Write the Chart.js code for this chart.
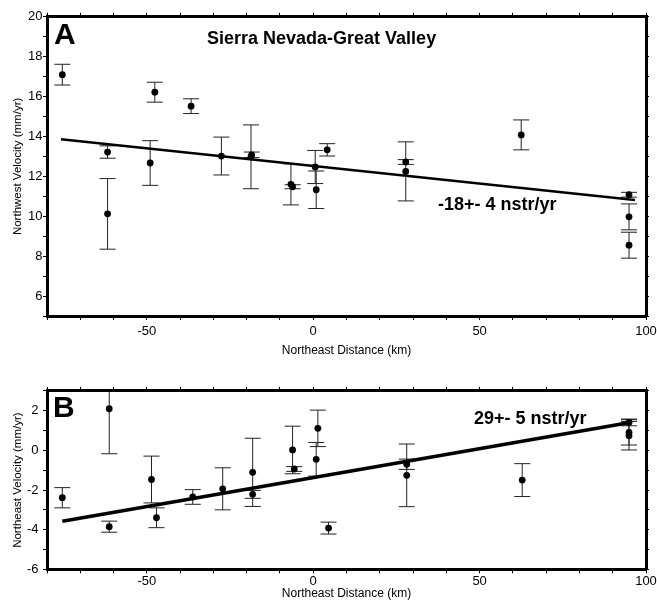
<!DOCTYPE html>
<html>
<head>
  <script src="https://cdn.jsdelivr.net/npm/chart.js"></script>
  <style>
    html, body { margin: 0; padding: 0; background: #fff; overflow: hidden; }
    body { width: 657px; height: 600px; position: relative; }
    canvas { position: absolute; left: 0; }
    #topChart { top: 0; }
    #bottomChart { top: 370px; }
  </style>
</head>
<body>
  <canvas id="topChart" width="657" height="365"></canvas>
  <canvas id="bottomChart" width="657" height="240"></canvas>
  <script>
    // Panel A: northwest velocity vs northeast distance
    const nwDist = [-75.4, -61.8, -61.8, -49.0, -47.6, -36.7, -27.6, -18.7, -18.5, -6.7, -6.2, 0.6, 0.9, 4.2, 27.8, 27.8, 62.5, 94.9, 94.9, 94.9];
    const nwVel  = [17.10, 13.22, 10.12, 12.67, 16.22, 15.52, 13.02, 12.98, 13.08, 11.60, 11.48, 12.47, 11.33, 13.33, 12.72, 12.25, 14.08, 11.08, 9.97, 8.55];
    const nwErr  = [0.52, 0.31, 1.77, 1.12, 0.50, 0.37, 0.95, 1.60, 0.14, 1.03, 0.10, 0.83, 0.94, 0.31, 0.12, 1.48, 0.75, 0.12, 0.65, 0.65];
    const nwFitX = [-75.8, 96.7];
    const nwFitY = [13.86, 10.81];

    // Panel B: northeast velocity vs northeast distance
    const neDist = [-75.4, -61.3, -61.3, -48.6, -47.1, -36.2, -27.2, -18.2, -18.2, -6.2, -5.7, 1.4, 0.9, 4.6, 28.1, 28.1, 62.8, 94.9, 94.9, 94.9];
    const neVel  = [-2.39, 2.10, -3.85, -1.47, -3.40, -2.35, -1.94, -1.11, -2.22, 0.02, -0.94, 1.11, -0.45, -3.92, -0.70, -1.26, -1.50, 1.41, 0.91, 0.74];
    const neErr  = [0.51, 2.27, 0.28, 1.18, 0.50, 0.37, 1.06, 1.72, 0.20, 1.20, 0.12, 0.92, 0.85, 0.30, 0.26, 1.58, 0.83, 0.17, 0.64, 0.72];
    const neFitX = [-75.4, 95.2];
    const neFitY = [-3.58, 1.41];

    // tick labels
    const xTickLabels = [-50, 0, 50, 100];
    const nwTickLabels = [6, 8, 10, 12, 14, 16, 18, 20];
    const neTickLabels = [-6, -4, -2, 0, 2];

    const FONT = '"Liberation Sans", Arial, Helvetica, sans-serif';
    Chart.defaults.font.family = FONT;
    Chart.defaults.color = '#000';

    function errorBarPlugin(xs, ys, errs) {
      return {
        id: 'errorBars',
        beforeDatasetsDraw(chart) {
          const { ctx, chartArea, scales } = chart;
          ctx.save();
          ctx.beginPath();
          ctx.rect(chartArea.left, chartArea.top, chartArea.width, chartArea.height);
          ctx.clip();
          ctx.strokeStyle = '#222';
          ctx.lineWidth = 1;
          xs.forEach((xv, i) => {
            const px = scales.x.getPixelForValue(xv);
            const lo = scales.y.getPixelForValue(ys[i] - errs[i]);
            const hi = scales.y.getPixelForValue(ys[i] + errs[i]);
            ctx.beginPath();
            ctx.moveTo(px, lo); ctx.lineTo(px, hi);
            ctx.moveTo(px - 8, lo); ctx.lineTo(px + 8, lo);
            ctx.moveTo(px - 8, hi); ctx.lineTo(px + 8, hi);
            ctx.stroke();
          });
          ctx.restore();
        }
      };
    }

    function textPlugin(items) {
      return {
        id: 'panelText',
        afterDraw(chart) {
          const ctx = chart.ctx;
          ctx.save();
          ctx.fillStyle = '#000';
          ctx.textBaseline = 'alphabetic';
          ctx.textAlign = 'left';
          items.forEach(t => {
            ctx.font = t.font;
            ctx.fillText(t.text, t.x, t.y);
          });
          ctx.restore();
        }
      };
    }

    const tickGrid = len => ({
      display: true, drawOnChartArea: false, drawTicks: true,
      tickLength: len, color: '#000', lineWidth: 1
    });
    const frame = { display: true, width: 3, color: '#000' };

    function makePanel(id, p) {
      const points = p.xs.map((x, i) => ({ x: x, y: p.ys[i] }));
      const fit = p.fitX.map((x, i) => ({ x: x, y: p.fitY[i] }));
      return new Chart(document.getElementById(id), {
        type: 'scatter',
        data: {
          datasets: [
            {
              data: points, order: 0,
              pointRadius: 3.4, pointHoverRadius: 3.4,
              backgroundColor: '#000', borderWidth: 0
            },
            {
              data: fit, order: 1, showLine: true,
              borderColor: '#000', borderWidth: p.fitWidth,
              pointRadius: 0, fill: false
            }
          ]
        },
        options: {
          responsive: false,
          animation: false,
          layout: { padding: 0 },
          plugins: { legend: { display: false }, tooltip: { enabled: false } },
          events: [],
          scales: {
            x: {
              type: 'linear', position: 'bottom', min: -80, max: 100,
              ticks: {
                stepSize: 10, autoSkip: false, maxRotation: 0, font: { size: 13 },
                padding: p.xPad,
                callback: v => xTickLabels.includes(v) ? String(v) : ''
              },
              grid: tickGrid(4),
              border: frame,
              title: { display: true, text: 'Northeast Distance (km)', font: { size: 12 }, padding: { top: 0, bottom: p.xTitlePad } },
              afterFit: s => {
                s.height = p.bottomH;
                // keep the "100" label from shrinking the plot frame
                s.paddingLeft = 0;
                s.paddingRight = 0;
              }
            },
            x2: {
              type: 'linear', position: 'top', min: -80, max: 100,
              ticks: { stepSize: 10, display: false },
              grid: tickGrid(4),
              border: frame,
              afterFit: s => { s.height = p.topH; }
            },
            y: {
              type: 'linear', position: 'left', min: p.yMin, max: p.yMax,
              ticks: {
                stepSize: 1, autoSkip: false, font: { size: 13 },
                padding: p.yPad,
                callback: v => p.yLabels.includes(v) ? String(v) : ''
              },
              grid: tickGrid(4),
              border: frame,
              title: { display: true, text: p.yTitle, font: { size: 11.5 }, padding: { top: 11, bottom: 0 } },
              afterFit: s => { s.width = 47; }
            },
            y2: {
              type: 'linear', position: 'right', min: p.yMin, max: p.yMax,
              ticks: { stepSize: 1, display: false },
              grid: tickGrid(3),
              border: frame,
              afterFit: s => { s.width = 11; }
            }
          }
        },
        plugins: [errorBarPlugin(p.xs, p.ys, p.errs), textPlugin(p.texts)]
      });
    }

    makePanel('topChart', {
      xs: nwDist, ys: nwVel, errs: nwErr, fitX: nwFitX, fitY: nwFitY, fitWidth: 2.5,
      yMin: 5, yMax: 20, yLabels: nwTickLabels, yTitle: 'Northwest Velocity (mm/yr)',
      topH: 16.8, bottomH: 49, xPad: 3.9, yPad: 0.5, xTitlePad: 6.8,
      texts: [
        { text: 'A', x: 54, y: 44.3, font: 'bold 30px ' + FONT },
        { text: 'Sierra Nevada-Great Valley', x: 207, y: 44.3, font: 'bold 18px ' + FONT },
        { text: '-18+- 4 nstr/yr', x: 438, y: 210, font: 'bold 18px ' + FONT }
      ]
    });

    makePanel('bottomChart', {
      xs: neDist, ys: neVel, errs: neErr, fitX: neFitX, fitY: neFitY, fitWidth: 3.5,
      yMin: -6, yMax: 3, yLabels: neTickLabels, yTitle: 'Northeast Velocity (mm/yr)',
      topH: 20.9, bottomH: 40.7, xPad: 0.6, yPad: 4.5, xTitlePad: 8.8,
      texts: [
        { text: 'B', x: 53, y: 47.3, font: 'bold 30px ' + FONT },
        { text: '29+- 5 nstr/yr', x: 474, y: 54.3, font: 'bold 18px ' + FONT }
      ]
    });
  </script>
</body>
</html>
